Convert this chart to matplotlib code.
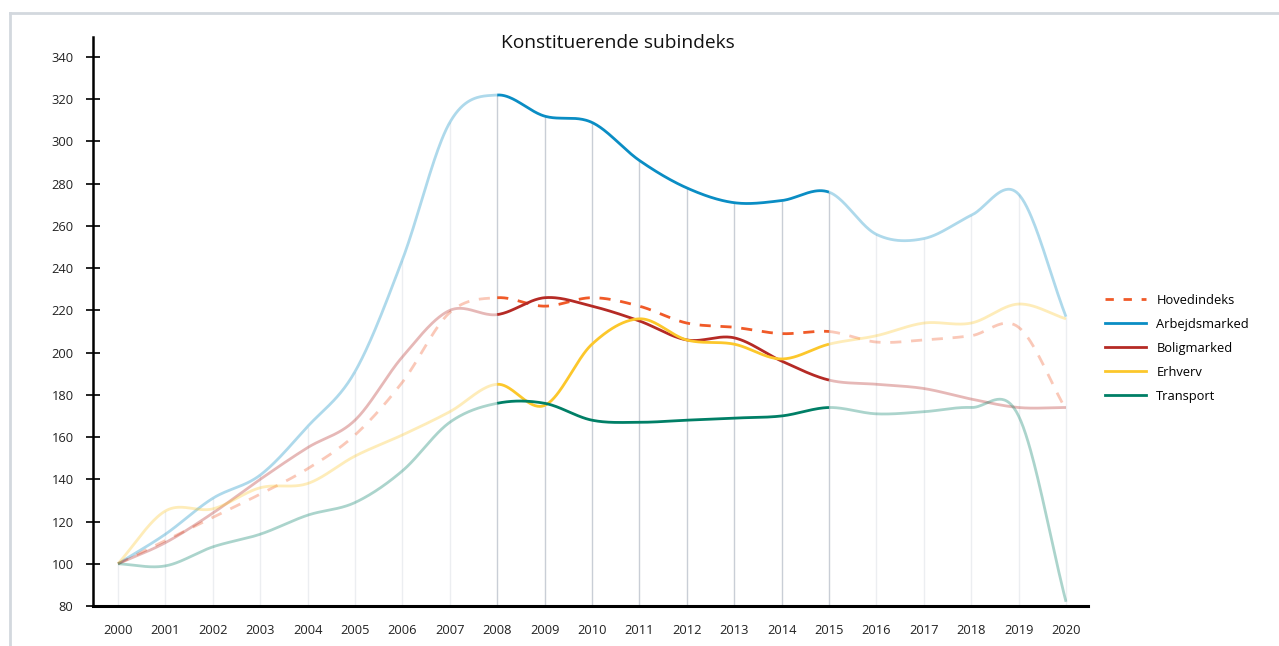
import numpy as np
import matplotlib
matplotlib.use("Agg")
import matplotlib.pyplot as plt
from matplotlib.lines import Line2D

years = list(range(2000, 2021))
hovedindeks = [100, 111, 122, 133, 145, 161, 186, 219, 226, 222, 226, 222, 214, 212, 209, 210, 205, 206, 208, 212, 173]
arbejdsmarked = [100, 114, 131, 142, 165, 191, 244, 309, 322, 312, 309, 291, 278, 271, 272, 276, 256, 254, 265, 275, 217]
boligmarked = [100, 110, 124, 140, 155, 168, 198, 220, 218, 226, 222, 215, 206, 207, 196, 187, 185, 183, 178, 174, 174]
erhverv = [100, 125, 126, 136, 138, 151, 161, 172, 185, 175, 204, 216, 206, 204, 197, 204, 208, 214, 214, 223, 216]
transport = [100, 99, 108, 114, 123, 129, 144, 167, 176, 176, 168, 167, 168, 169, 170, 174, 171, 172, 174, 170, 82]

series = [
    ("Hovedindeks", hovedindeks, "#f05a28", True),
    ("Arbejdsmarked", arbejdsmarked, "#0a8dc4", False),
    ("Boligmarked", boligmarked, "#b52a25", False),
    ("Erhverv", erhverv, "#fcc72b", False),
    ("Transport", transport, "#007f66", False),
]
yticks = list(range(80, 341, 20))
hl_start, hl_end = 2008, 2015


def catmull(x, y, n=40):
    x = np.asarray(x, float)
    y = np.asarray(y, float)
    m = np.zeros_like(y)
    m[1:-1] = (y[2:] - y[:-2]) / (x[2:] - x[:-2])
    m[0] = (y[1] - y[0]) / (x[1] - x[0])
    m[-1] = (y[-1] - y[-2]) / (x[-1] - x[-2])
    xs, ys = [], []
    for i in range(len(x) - 1):
        h = x[i + 1] - x[i]
        t = np.linspace(0, 1, n, endpoint=False)
        h00 = 2 * t**3 - 3 * t**2 + 1
        h10 = t**3 - 2 * t**2 + t
        h01 = -2 * t**3 + 3 * t**2
        h11 = t**3 - t**2
        xs.append(x[i] + t * h)
        ys.append(h00 * y[i] + h10 * h * m[i] + h01 * y[i + 1] + h11 * h * m[i + 1])
    xs.append([x[-1]])
    ys.append([y[-1]])
    return np.concatenate(xs), np.concatenate(ys)


W, H = 1279, 646
fig = plt.figure(figsize=(W / 100, H / 100), dpi=100)
ax = fig.add_axes([93 / W, (H - 606) / H, (1088 - 93) / W, (606 - 37) / H])
ax.set_xlim(2000 - 25 / 47.4, 2020 + 22 / 47.4)
ax.set_ylim(80, 340 + 20 * 20 / 42.23)

# drop lines from the highest series value at each year
allv = np.array([s[1] for s in series])
maxv = allv.max(axis=0)
for yr, mv in zip(years, maxv):
    col = "#c9ced6" if hl_start <= yr <= hl_end else "#eceef1"
    ax.vlines(yr, 80, mv, color=col, lw=1.0, zorder=1)

lw = 2.0
for name, vals, color, dashed in series:
    xs, ys = catmull(years, vals)
    ls = (0, (4, 3.5)) if dashed else "-"
    pre = xs <= hl_start
    mid = (xs >= hl_start) & (xs <= hl_end)
    post = xs >= hl_end
    a = 0.33
    ax.plot(xs[pre], ys[pre], color=color, alpha=a, lw=lw, ls=ls, zorder=2, solid_capstyle="butt")
    ax.plot(xs[post], ys[post], color=color, alpha=a, lw=lw, ls=ls, zorder=2, solid_capstyle="butt")
    ax.plot(xs[mid], ys[mid], color=color, lw=lw, ls=ls, zorder=3, solid_capstyle="butt")

for s in ["top", "right"]:
    ax.spines[s].set_visible(False)
ax.spines["left"].set_linewidth(1.8)
ax.spines["bottom"].set_linewidth(2.2)
ax.set_yticks(yticks)
ax.set_xticks(years)
ax.set_xticklabels([str(y) for y in years])
fam = ["Open Sans", "DejaVu Sans"]
ax.tick_params(axis="y", direction="inout", length=10, width=1.2, pad=9, labelsize=9.3)
ax.tick_params(axis="x", length=0, pad=13, labelsize=9.3)
for lab in ax.get_xticklabels() + ax.get_yticklabels():
    lab.set_fontfamily(fam)
    lab.set_color("#222222")

fig.text(618 / W, 1 - 43 / H, "Konstituerende subindeks", ha="center", va="center",
         fontsize=13.8, family=fam, color="#111111")

handles = []
for name, vals, color, dashed in series:
    handles.append(Line2D([], [], color=color, lw=2.0, ls=(0, (3, 3.5)) if dashed else "-"))
leg = fig.legend(handles, [s[0] for s in series], loc="upper left",
                 bbox_to_anchor=(1093 / W, 1 - 282 / H), frameon=False,
                 prop={"family": fam, "size": 9.3}, handlelength=3.2, handletextpad=0.8,
                 labelspacing=0.85)

# frame
fig.add_artist(Line2D([10 / W, 1], [1 - 13 / H, 1 - 13 / H], color="#d3d8de", lw=2, transform=fig.transFigure))
fig.add_artist(Line2D([10 / W, 10 / W], [1 - 13 / H, 0], color="#d3d8de", lw=2, transform=fig.transFigure))

fig.savefig("out.png", dpi=100)
